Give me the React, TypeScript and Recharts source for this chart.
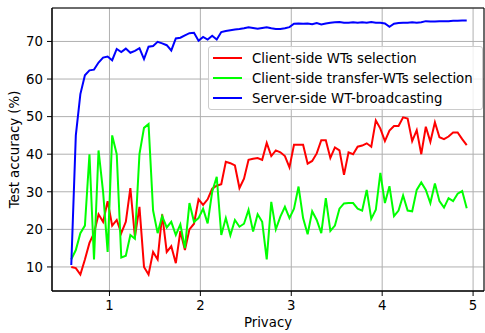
import React from 'react';
import {
  LineChart,
  Line,
  XAxis,
  YAxis,
  CartesianGrid,
  Legend,
  ReferenceArea,
} from 'recharts';

// privacy budget (x axis)
const privacy = [
  0.58, 0.63, 0.68, 0.73, 0.78, 0.83, 0.88, 0.93, 0.98, 1.03,
  1.08, 1.13, 1.18, 1.23, 1.28, 1.33, 1.38, 1.43, 1.48, 1.53,
  1.58, 1.63, 1.68, 1.73, 1.78, 1.83, 1.88, 1.93, 1.98, 2.03,
  2.08, 2.13, 2.18, 2.23, 2.28, 2.33, 2.38, 2.43, 2.48, 2.53,
  2.58, 2.63, 2.68, 2.73, 2.78, 2.83, 2.88, 2.93, 2.98, 3.03,
  3.08, 3.13, 3.18, 3.23, 3.28, 3.33, 3.38, 3.43, 3.48, 3.53,
  3.58, 3.63, 3.68, 3.73, 3.78, 3.83, 3.88, 3.93, 3.98, 4.03,
  4.08, 4.13, 4.18, 4.23, 4.28, 4.33, 4.38, 4.43, 4.48, 4.53,
  4.58, 4.63, 4.68, 4.73, 4.78, 4.83, 4.88, 4.93,
];

// Client-side WTs selection
const clientSelection = [
  10, 9.7, 8, 12, 16.4, 19, 24, 22, 27.5, 21,
  22.5, 19, 22, 31, 18, 26, 10, 8, 14, 12,
  24, 14, 15.5, 11, 19.5, 14.5, 20, 21.5, 28, 26.5,
  28, 30.8, 31.6, 32, 38, 37.6, 37, 31, 33.5, 38.5,
  38.8, 39, 38.5, 43, 39.5, 41, 40.5, 39.5, 36.5, 42.5,
  42.5, 42.5, 37.5, 38.2, 40.2, 43.7, 43.7, 39, 41.8, 41,
  34.5, 40.5, 40, 42, 42.3, 42.9, 42, 49, 46.8, 43.5,
  46.3, 47.5, 47.5, 49.8, 49.5, 43.5, 46.4, 40, 47.3, 43.3,
  48.5, 44.5, 44, 44.7, 45.8, 45.8, 44, 42.4,
];

// Client-side transfer-WTs selection
const clientTransfer = [
  12, 14.5, 19, 21, 40, 12, 41, 30, 14, 45,
  40, 12.5, 13, 18.5, 17.5, 40, 47, 48, 25, 19,
  23.5, 20.5, 22, 18.5, 21.3, 15, 27, 22, 23, 25.5,
  21.6, 30, 34, 18.5, 23, 18.4, 22.5, 20.7, 21.5, 25.2,
  19.4, 24, 22, 12, 27.3, 20, 23.4, 26, 23, 25.5,
  31.4, 23, 18.7, 24.8, 22.5, 19, 28.3, 19.6, 21, 25.5,
  26.9, 27, 27, 25.5, 25, 30.5, 22.8, 25.2, 35, 27,
  31.5, 23.5, 25, 29, 25, 24.8, 30.5, 32.5, 30.5, 27,
  32.2, 27.5, 25.8, 28.3, 27.5, 29.5, 30.2, 25.6,
];

// Server-side WT-broadcasting
const serverBroadcast = [
  10.5, 45, 56, 61, 62.3, 62.5, 64.4, 65.7, 66, 65,
  68, 67.2, 68.1, 67, 67.5, 68.2, 65.3, 68.6, 68.8, 69.9,
  69.5, 69, 67.6, 70.8, 71, 71.6, 72.2, 72.3, 70.2, 71.2,
  70.5, 71.5, 70.5, 72.5, 72.8, 73, 73.2, 73.3, 73.5, 73.8,
  73.6, 73.4, 73.6, 73.8, 73.5, 73.3, 73.3, 73.5, 73.8, 74.7,
  74.8, 74.7, 74.8, 74.6, 74.9, 74.5, 74.8, 75, 75.1, 75.2,
  75, 75, 75.1, 75, 75.1, 75, 75.2, 75, 75, 74.8,
  73.9, 74.7, 74.9, 75, 75, 75.1, 75, 75.1, 75.4, 75.3,
  75.3, 75.4, 75.4, 75.4, 75.5, 75.5, 75.6, 75.6,
];

const xTicks = [1, 2, 3, 4, 5];
const yTicks = [10, 20, 30, 40, 50, 60, 70];

const X_DOMAIN: [number, number] = [0.368, 5.12];
const Y_DOMAIN: [number, number] = [3.6, 78.9];

const FONT = "'DejaVu Sans', sans-serif";
const FONT_SIZE = 13.3;

const data = privacy.map((p, i) => ({
  privacy: p,
  selection: clientSelection[i],
  transfer: clientTransfer[i],
  broadcast: serverBroadcast[i],
}));

const LegendBox = (props: any) => {
  const { payload } = props;
  return (
    <div
      style={{
        boxSizing: 'border-box',
        width: 275,
        border: '1px solid #cccccc',
        borderRadius: 3,
        background: 'rgba(255,255,255,0.8)',
        padding: '1px 0 1px 4px',
        fontFamily: FONT,
        fontSize: FONT_SIZE,
        color: '#000',
      }}
    >
      {(payload || []).map((entry: any) => (
        <div key={entry.value} style={{ display: 'flex', alignItems: 'center', height: 20 }}>
          <svg width={29} height={4} style={{ display: 'block' }}>
            <line x1={0} y1={2} x2={29} y2={2} stroke={entry.color} strokeWidth={2} />
          </svg>
          <span style={{ marginLeft: 10, whiteSpace: 'nowrap' }}>{entry.value}</span>
        </div>
      ))}
    </div>
  );
};

export default function App() {
  const tickStyle = { fill: '#000', fontSize: FONT_SIZE, fontFamily: FONT };
  return (
    <div style={{ position: 'absolute', left: 0, top: 0, background: '#fff' }}>
      <LineChart width={485} height={333} data={data} margin={{ top: 8, right: 1, bottom: 0, left: 0 }}>
        <CartesianGrid stroke="#b0b0b0" strokeWidth={1} />
        <XAxis
          type="number"
          dataKey="privacy"
          domain={X_DOMAIN}
          ticks={xTicks}
          allowDataOverflow
          height={42}
          tickSize={5}
          tickMargin={5}
          tick={tickStyle}
          stroke="#000"
          label={{ value: 'Privacy', position: 'insideBottom', offset: 6, fill: '#000', fontSize: FONT_SIZE, fontFamily: FONT }}
        />
        <YAxis
          type="number"
          domain={Y_DOMAIN}
          ticks={yTicks}
          allowDataOverflow
          width={52}
          tickSize={5}
          tickMargin={4}
          tick={tickStyle}
          stroke="#000"
          label={{
            value: 'Test accuracy (%)',
            angle: -90,
            position: 'insideLeft',
            offset: 14,
            fill: '#000',
            fontSize: FONT_SIZE,
            fontFamily: FONT,
            style: { textAnchor: 'middle' },
          }}
        />
        <ReferenceArea
          x1={X_DOMAIN[0]}
          x2={X_DOMAIN[1]}
          y1={Y_DOMAIN[0]}
          y2={Y_DOMAIN[1]}
          fill="none"
          fillOpacity={0}
          stroke="#000"
          strokeWidth={1}
        />
        <Line
          type="linear"
          dataKey="selection"
          name="Client-side WTs selection"
          stroke="#ff0000"
          strokeWidth={2}
          dot={false}
          isAnimationActive={false}
        />
        <Line
          type="linear"
          dataKey="transfer"
          name="Client-side transfer-WTs selection"
          stroke="#00ff00"
          strokeWidth={2}
          dot={false}
          isAnimationActive={false}
        />
        <Line
          type="linear"
          dataKey="broadcast"
          name="Server-side WT-broadcasting"
          stroke="#0000ff"
          strokeWidth={2}
          dot={false}
          isAnimationActive={false}
        />
        <Legend
          layout="horizontal"
          verticalAlign="middle"
          align="center"
          content={<LegendBox />}
          wrapperStyle={{ left: 208, top: 46, width: 275 }}
        />
      </LineChart>
    </div>
  );
}
